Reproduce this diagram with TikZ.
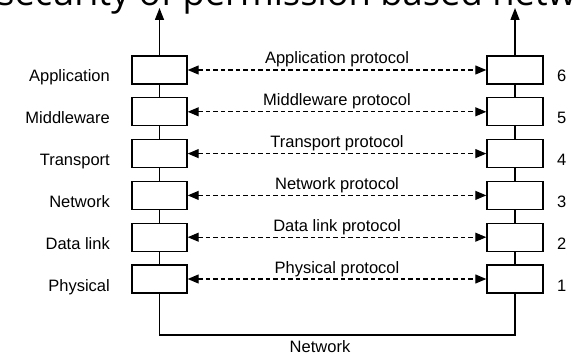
\documentclass[tikz,border=0pt]{standalone}
\usepackage{fontspec}
\setmainfont{Liberation Sans}
\newfontfamily\headfont{Open Sans}
\usetikzlibrary{arrows.meta,positioning,calc}

\begin{document}
\begin{tikzpicture}[x=1pt,y=-1pt,
  layerbox/.style={draw,line width=1.4pt,minimum width=55pt,minimum height=28pt,inner sep=0pt},
  proto/.style={line width=1.1pt,dash pattern=on 4.5pt off 3pt,{Triangle[length=11pt,width=9pt]}-{Triangle[length=11pt,width=9pt]}},
  wire/.style={line width=1.4pt},
  upline/.style={line width=1.4pt,-{Triangle[length=12pt,width=9pt]}},
  lbl/.style={font=\fontsize{16.5}{18}\selectfont,inner sep=0pt}]
\clip (0,0) rectangle (577,355);
\node[anchor=base west,font=\headfont\fontsize{36.3}{40}\selectfont,inner sep=0pt] (head) at (-3,6) {security of permission based network};
\foreach \id/\layer/\num [count=\i from 0] in {app/Application/6,mid/Middleware/5,trn/Transport/4,net/Network/3,dl/Data link/2,phy/Physical/1}{
  \pgfmathsetmacro\yc{70+41.8*\i}
  \node[layerbox] (\id-l) at (159.5,\yc) {};
  \node[layerbox,minimum width=56pt] (\id-r) at (515,\yc) {};
  \node[lbl,anchor=base east] (\id-name) at (110,\yc+12) {\layer};
  \node[lbl,anchor=base west] (\id-num) at (557,\yc+12) {\num};
  \node[lbl,anchor=base] (\id-proto) at (337,\yc-6) {\layer{} protocol};
  \draw[proto] (\id-l.east) -- (\id-r.west);
}
\foreach \a/\b in {app/mid,mid/trn,trn/net,net/dl,dl/phy}{
  \draw[wire] (\a-l) -- (\b-l);
  \draw[wire] (\a-r) -- (\b-r);
}
\coordinate (top-l) at (159.5,8);
\coordinate (top-r) at (515,8);
\draw[upline] (app-l) -- (top-l);
\draw[upline] (app-r) -- (top-r);
\coordinate (bot-l) at (159.5,335);
\coordinate (bot-r) at (515,335);
\draw[wire] (phy-l) -- (bot-l) -- (bot-r) -- (phy-r);
\node[lbl,anchor=base] (medium) at (320,352) {Network};
\end{tikzpicture}
\end{document}
